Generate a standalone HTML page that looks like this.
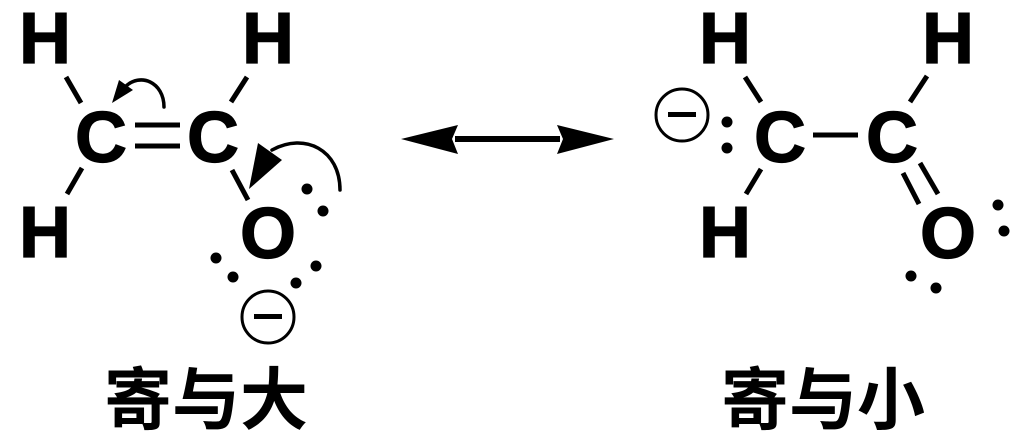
<!DOCTYPE html>
<html><head><meta charset="utf-8"><style>
html,body{margin:0;padding:0;background:#fff;}
svg{display:block;}
.a{font-family:"Liberation Sans",sans-serif;font-weight:bold;font-size:72px;fill:#000;stroke:#000;stroke-width:1.2px;}
.z{font-family:"Liberation Sans","Noto Sans CJK SC",sans-serif;font-weight:bold;font-size:68px;fill:#000;}
</style></head><body>
<svg width="1024" height="438" viewBox="0 0 1024 438" xmlns="http://www.w3.org/2000/svg">
<g class="a" text-anchor="middle">
<text x="45" y="63">H</text>
<text x="45" y="257">H</text>
<text x="101" y="162">C</text>
<text x="213" y="162">C</text>
<text x="268" y="63">H</text>
<text x="268" y="258">O</text>
<text x="725" y="63">H</text>
<text x="725" y="257">H</text>
<text x="780" y="162">C</text>
<text x="892" y="162">C</text>
<text x="948" y="63">H</text>
<text x="948" y="258">O</text>
</g>
<g stroke="#000" stroke-width="5" fill="none">
<line x1="66" y1="77" x2="81" y2="103"/>
<line x1="82" y1="168" x2="67" y2="194"/>
<line x1="135" y1="125" x2="180" y2="125"/>
<line x1="135" y1="146" x2="180" y2="146"/>
<line x1="247" y1="77" x2="231" y2="102"/>
<line x1="232" y1="170" x2="248" y2="200"/>
<line x1="745" y1="77" x2="761" y2="102"/>
<line x1="761" y1="169" x2="746" y2="194"/>
<line x1="813" y1="135" x2="858" y2="135"/>
<line x1="927" y1="76" x2="910" y2="102"/>
<line x1="903" y1="173" x2="919" y2="204"/>
<line x1="920" y1="163" x2="938" y2="194"/>
<line x1="455" y1="139" x2="560" y2="139" stroke-width="6"/>
</g>
<g stroke="#000" stroke-width="3.5" fill="none" stroke-linecap="round">
<path d="M164,107 C164,82 140,72 125,87"/>
<path d="M340,190 C340,150 305,132 272,150"/>
<circle cx="268" cy="317" r="26" stroke-width="3"/>
<circle cx="682" cy="115" r="26" stroke-width="3"/>
</g>
<g fill="#000">
<polygon points="112,103 119,80 133,90"/>
<polygon points="249,189 258,143 282,160"/>
<polygon points="401,139 458,125 452,139 458,154"/>
<polygon points="614,139 557,125 563,139 557,154"/>
<rect x="254" y="314" width="28" height="5"/>
<rect x="668" y="112" width="28" height="5"/>
<circle cx="307" cy="189" r="5.5"/>
<circle cx="323" cy="211" r="5.5"/>
<circle cx="216" cy="258" r="5.5"/>
<circle cx="233" cy="277" r="5.5"/>
<circle cx="316" cy="266" r="5.5"/>
<circle cx="296" cy="283" r="5.5"/>
<circle cx="727" cy="122" r="5.5"/>
<circle cx="727" cy="148" r="5.5"/>
<circle cx="998" cy="205" r="5.5"/>
<circle cx="1004" cy="231" r="5.5"/>
<circle cx="911" cy="276" r="5.5"/>
<circle cx="936" cy="288" r="5.5"/>
</g>
<g class="z" text-anchor="middle">
<text x="206" y="424">寄与大</text>
<text x="823" y="424">寄与小</text>
</g>
</svg>
</body></html>
